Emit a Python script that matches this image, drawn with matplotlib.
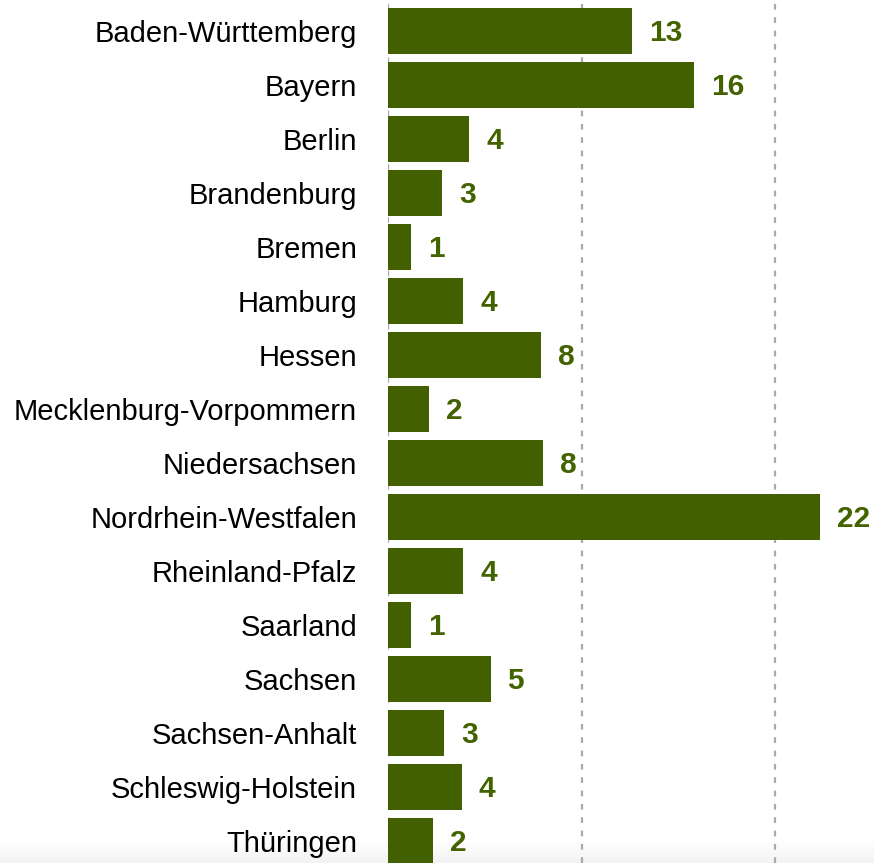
import matplotlib
matplotlib.use("Agg")
import matplotlib.pyplot as plt
import numpy as np

categories = ["Baden-Württemberg", "Bayern", "Berlin", "Brandenburg", "Bremen",
              "Hamburg", "Hessen", "Mecklenburg-Vorpommern", "Niedersachsen",
              "Nordrhein-Westfalen", "Rheinland-Pfalz", "Saarland", "Sachsen",
              "Sachsen-Anhalt", "Schleswig-Holstein", "Thüringen"]
values = [12.6, 15.8, 4.2, 2.8, 1.2, 3.9, 7.9, 2.1, 8.0, 22.3, 3.9, 1.2, 5.3, 2.9, 3.8, 2.3]
gridticks = [0, 10, 20]

plt.rcParams['font.family'] = ['Liberation Sans', 'DejaVu Sans']

W, H = 874, 863
fig = plt.figure(figsize=(W/100, H/100), dpi=100)

# subtle bottom gradient
bg = fig.add_axes([0, 0, 1, 22/H])
grad = np.linspace(0, 1, 50).reshape(-1, 1)
bg.imshow(grad, aspect='auto', cmap=matplotlib.colors.LinearSegmentedColormap.from_list(
    'g', ['#f3f3f3', '#ffffff']), origin='lower', extent=[0, 1, 0, 1])
bg.axis('off')

left = 388 / W
ax = fig.add_axes([left, 0, 1 - left, 1])
ax.patch.set_alpha(0)

n = len(categories)
y = np.arange(n)
ax.barh(y, values, height=46/54, color='#426000', zorder=3)

ppu = 19.35
ax.set_xlim(0, (W - 388) / ppu)
top_pad = 4
ax.set_ylim((H - top_pad) / 54 - 0.5, -0.5 - top_pad / 54)

for gx in gridticks:
    ax.axvline(gx, color='#aaaaaa', lw=1.6, dashes=(2.6, 3.4), zorder=1)

for yi, v, c in zip(y, values, categories):
    ax.text(v + 17/ppu, yi + 0.04, f"{round(v)}", va='center', ha='left', fontsize=21.5,
            fontweight='bold', color='#436200', clip_on=False)
    ax.text(-31/ppu, yi + 0.06, c, va='center', ha='right', fontsize=21,
            color='#000000', clip_on=False)

ax.set_xticks([])
ax.set_yticks([])
for s in ax.spines.values():
    s.set_visible(False)

fig.savefig("out.png", dpi=100)
